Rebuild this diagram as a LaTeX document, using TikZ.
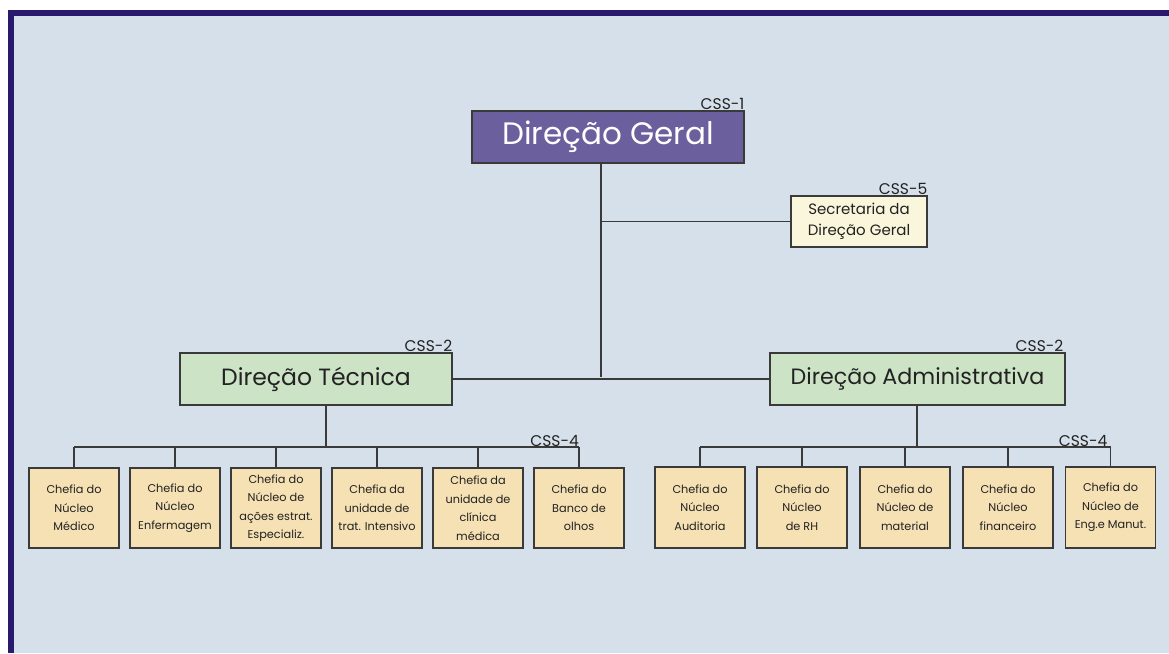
\documentclass[tikz,border=0pt]{standalone}
\usepackage{fontspec}
\setmainfont{Poppins}
\definecolor{bgblue}{HTML}{D6E0EA}
\definecolor{frame}{HTML}{2A1A6E}
\definecolor{purplebox}{HTML}{6C5F9E}
\definecolor{greenbox}{HTML}{CCE3C6}
\definecolor{tanbox}{HTML}{F5E1B4}
\definecolor{creambox}{HTML}{FAF6DC}
\definecolor{linec}{HTML}{3A3A3A}
\definecolor{txt}{HTML}{222222}
\begin{document}
\begin{tikzpicture}[x=1pt,y=-1pt,
  box/.style={draw=linec,line width=1.1pt,align=center,inner sep=0pt,text=txt},
  topbox/.style={box,fill=purplebox,minimum width=272pt,minimum height=52pt,text=white,font=\fontsize{31}{34}\selectfont},
  midbox/.style={box,fill=greenbox,minimum height=52pt},
  secbox/.style={box,fill=creambox,minimum width=136pt,minimum height=51pt,font=\fontsize{15}{21}\selectfont},
  leaf/.style={box,fill=tanbox,minimum width=90pt,minimum height=80pt,font=\fontsize{11.3}{18.5}\selectfont},
  css/.style={inner sep=0pt,anchor=south east,text=txt,font=\fontsize{15.5}{17}\selectfont,yshift=1pt},
  conn/.style={draw=linec,line width=1.1pt}]
\useasboundingbox (0,0) rectangle (1169,653);
\fill[white] (0,0) rectangle (1169,653);
\fill[frame] (8,10) rectangle (1169,653);
\fill[bgblue] (14,16) rectangle (1169,653);

\node[topbox] (geral) at (608,137) {\raisebox{-2pt}{Direção Geral}};
\node[css] at (geral.north east) {CSS-1};
\node[secbox] (sec) at (859,221.5) {Secretaria da\\Direção Geral};
\node[css] at (sec.north east) {CSS-5};
\node[midbox,minimum width=272pt,font=\fontsize{23.5}{28}\selectfont] (tec) at (316,379) {Direção Técnica};
\node[css] at (tec.north east) {CSS-2};
\node[midbox,minimum width=295pt,font=\fontsize{22.2}{28}\selectfont] (adm) at (917.5,379) {Direção Administrativa};
\node[css] at ([xshift=-2pt]adm.north east) {CSS-2};

\node[leaf] (l1) at (74,508) {Chefia do\\Núcleo\\Médico};
\node[leaf] (l2) at (175,508) {Chefia do\\Núcleo\\Enfermagem};
\node[leaf] (l3) at (276,508) {Chefia do\\Núcleo de\\ações estrat.\\Especializ.};
\node[leaf] (l4) at (377,508) {Chefia da\\unidade de\\trat. Intensivo};
\node[leaf] (l5) at (478,508) {Chefia da\\unidade de\\clínica\\médica};
\node[leaf] (l6) at (579,508) {Chefia do\\Banco de\\olhos};

\node[leaf,minimum height=81pt] (r1) at (700,507.5) {Chefia do\\Núcleo\\Auditoria};
\node[leaf,minimum height=81pt] (r2) at (802,507.5) {Chefia do\\Núcleo\\de RH};
\node[leaf,minimum height=81pt] (r3) at (905,507.5) {Chefia do\\Núcleo de\\material};
\node[leaf,minimum height=81pt] (r4) at (1008,507.5) {Chefia do\\Núcleo\\financeiro};
\node[leaf,minimum height=81pt] (r5) at (1110.5,507.5) {Chefia do\\Núcleo de\\Eng.e Manut.};

\coordinate (t1) at (601,377);
\coordinate (lb) at (326,447);
\coordinate (rb) at (917,447);

\draw[conn] (geral.south -| t1) -- (t1);
\draw[conn] (sec.west) -- (sec.west -| t1);
\draw[conn] (tec.east) -- (adm.west);

\draw[conn] (tec.south -| lb) -- (lb);
\draw[conn] (l1.north |- lb) -- (l6.north |- lb);
\foreach \n in {l1,l2,l3,l4,l5,l6} \draw[conn] (\n.north) -- (\n.north |- lb);
\node[css,yshift=-1pt] at (l6.north |- lb) {CSS-4};

\draw[conn] (adm.south -| rb) -- (rb);
\draw[conn] (r1.north |- rb) -- (r5.north |- rb);
\foreach \n in {r1,r2,r3,r4,r5} \draw[conn] (\n.north) -- (\n.north |- rb);
\node[css,yshift=-1pt] at ([xshift=-3pt]r5.north |- rb) {CSS-4};
\end{tikzpicture}
\end{document}
